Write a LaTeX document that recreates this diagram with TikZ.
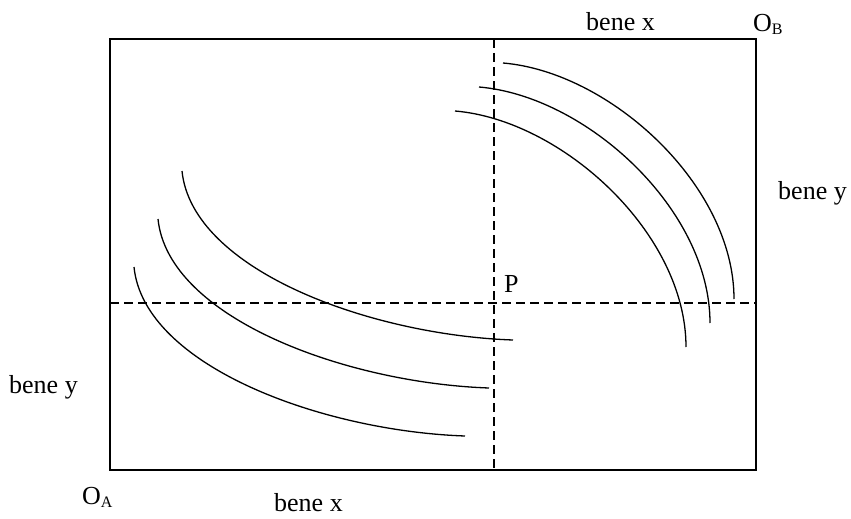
\documentclass[tikz,border=0pt]{standalone}
\usepackage{fontspec}
\setmainfont{Liberation Serif}
\newcommand{\subtxt}[1]{\raisebox{-3pt}{\fontsize{16}{16}\selectfont #1}}
\begin{document}
\begin{tikzpicture}[x=1pt,y=-1pt,
  frame/.style={line width=1.6pt},
  guide/.style={line width=1.5pt, dash pattern=on 9pt off 5pt},
  icurve/.style={line width=1.3pt},
  lbl/.style={inner sep=0pt, anchor=base west, font=\fontsize{26}{30}\selectfont}]
\useasboundingbox (0,0) rectangle (851,519);
% box corners
\coordinate (TL) at (110,39);
\coordinate (BR) at (756,470);
\draw[frame] (TL) rectangle (BR);
% dashed guides through P
\coordinate (vt) at (494,39);
\coordinate (vb) at (494,470);
\coordinate (hl) at (110,303);
\coordinate (hr) at (756,303);
\draw[guide] (vt) -- (vb);
\draw[guide] (hl) -- (hr);
% A's indifference curves
\coordinate (a1s) at (182,171); \coordinate (a1e) at (513,340);
\coordinate (a2s) at (158,219); \coordinate (a2e) at (489,388);
\coordinate (a3s) at (134,267); \coordinate (a3e) at (465,436);
\draw[icurve] (a1s) .. controls (192,270) and (370,335) .. (a1e);
\draw[icurve] (a2s) .. controls (168,318) and (346,383) .. (a2e);
\draw[icurve] (a3s) .. controls (144,366) and (322,431) .. (a3e);
% B's indifference curves
\coordinate (b1s) at (503,63); \coordinate (b1e) at (734,299);
\coordinate (b2s) at (479,87); \coordinate (b2e) at (710,323);
\coordinate (b3s) at (455,111); \coordinate (b3e) at (686,347);
\draw[icurve] (b1s) .. controls (610,72) and (734,185) .. (b1e);
\draw[icurve] (b2s) .. controls (586,96) and (710,209) .. (b2e);
\draw[icurve] (b3s) .. controls (562,120) and (686,233) .. (b3e);
% labels
\node[lbl] (bxtop) at (586,31) {bene x};
\node[lbl] (ob) at (753,32) {O\subtxt{B}};
\node[lbl] (byr) at (778,199) {bene y};
\node[lbl] (p) at (504,292) {P};
\node[lbl] (byl) at (9,393) {bene y};
\node[lbl] (oa) at (82,504) {O\subtxt{A}};
\node[lbl] (bxbot) at (274,511) {bene x};
\end{tikzpicture}
\end{document}
